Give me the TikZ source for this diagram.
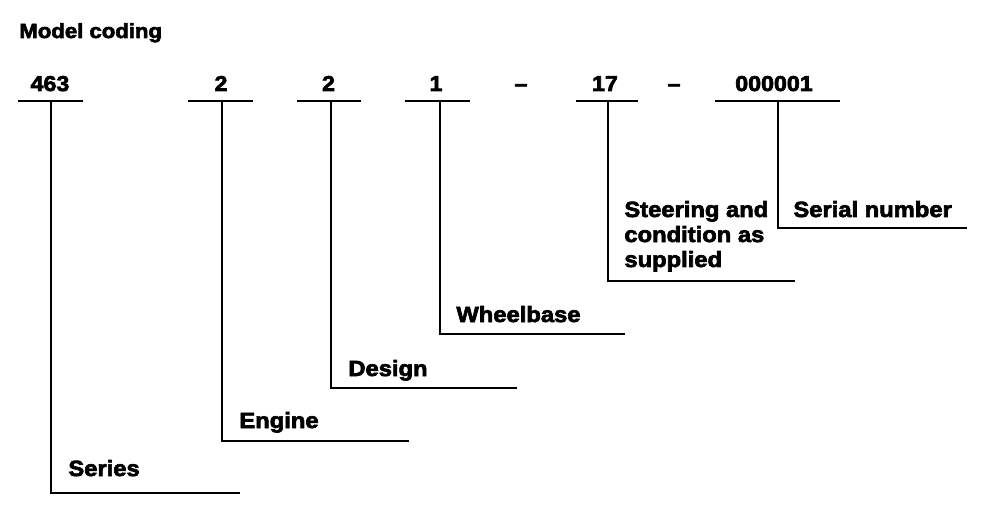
\documentclass[tikz,border=0pt]{standalone}
\usepackage{fontspec}
\setmainfont{Liberation Sans}[FakeStretch=1.08, BoldFeatures={FakeBold=3}]
\begin{document}
\begin{tikzpicture}[x=1pt,y=-1pt,
  line width=2.8pt, line join=miter, line cap=butt,
  lbl/.style={anchor=base west, inner sep=0pt, align=left,
    font=\fontsize{22}{25}\selectfont\bfseries},
  num/.style={anchor=base, inner sep=0pt,
    font=\fontsize{21.5}{25}\selectfont\bfseries},
  ttl/.style={anchor=base west, inner sep=0pt,
    font=\fontsize{20.5}{25}\selectfont\bfseries}]
\useasboundingbox (0,0) rectangle (992,510);

\node[ttl] (title) at (18,38) {Model coding};

% code digits
\node[num] (n1) at (50,91) {463};
\node[num] (n2) at (221,91) {2};
\node[num] (n3) at (328.5,91) {2};
\node[num] (n4) at (436,91) {1};
\node[num] (d1) at (521,91) {--};
\node[num] (n5) at (605,91) {17};
\node[num] (d2) at (674,91) {--};
\node[num] (n6) at (774,91) {000001};

% underlines
\coordinate (a1) at (18,101);  \coordinate (b1) at (83,101);
\coordinate (a2) at (188,101); \coordinate (b2) at (253,101);
\coordinate (a3) at (297,101); \coordinate (b3) at (361,101);
\coordinate (a4) at (405,101); \coordinate (b4) at (470,101);
\coordinate (a5) at (576,101); \coordinate (b5) at (638,101);
\coordinate (a6) at (715,101); \coordinate (b6) at (840,101);
\foreach \i in {1,...,6} { \draw (a\i) -- (b\i); }

% stems on the underlines and ends of the leaders
\coordinate (s1) at (51,101);  \coordinate (e1) at (240,493);
\coordinate (s2) at (222,101); \coordinate (e2) at (409,441);
\coordinate (s3) at (331,101); \coordinate (e3) at (517,388);
\coordinate (s4) at (440,101); \coordinate (e4) at (625,334);
\coordinate (s5) at (608,101); \coordinate (e5) at (795,281);
\coordinate (s6) at (778,101); \coordinate (e6) at (967,228);
\foreach \i in {1,...,6} { \draw (s\i) |- (e\i); }

% labels
\node[lbl] (series) at (67,476) {Series};
\node[lbl] (engine) at (238,428) {Engine};
\node[lbl] (design) at (347,376) {Design};
\node[lbl] (wheel) at (455,322) {Wheelbase};
\node[lbl] (steer) at (623,267) {Steering and\\condition as\\supplied};
\node[lbl] (serial) at (792,217) {Serial number};
\end{tikzpicture}
\end{document}
